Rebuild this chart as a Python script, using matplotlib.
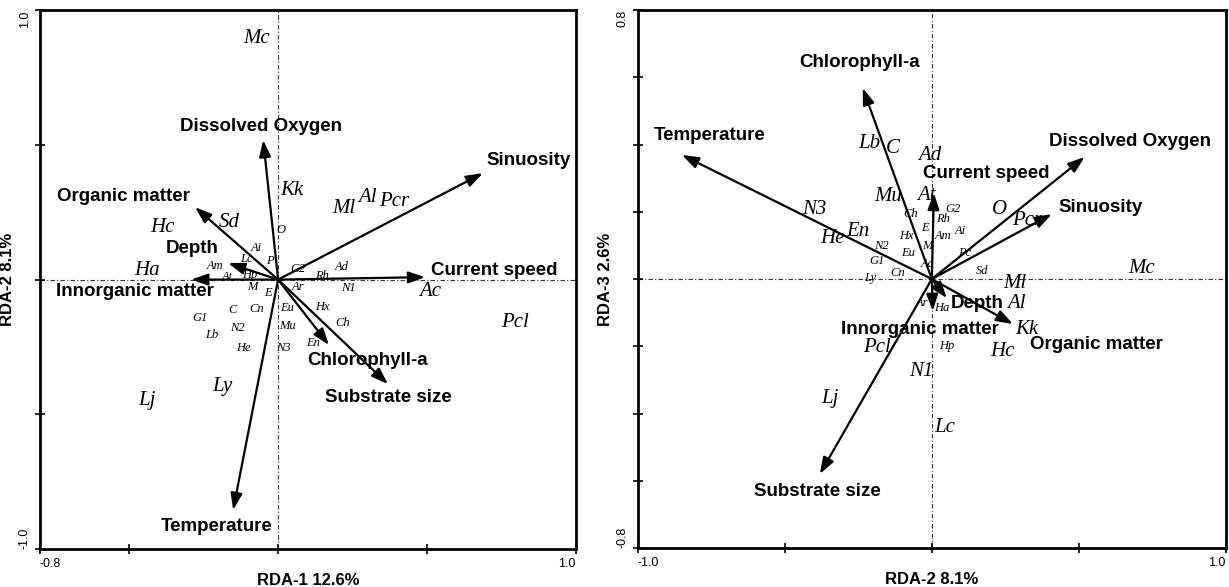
import numpy as np
import matplotlib.pyplot as plt

plt.rcParams['font.family'] = ['Liberation Sans', 'DejaVu Sans']

# environmental variables
env_names = ['Dissolved Oxygen', 'Sinuosity', 'Organic matter', 'Depth', 'Innorganic matter',
             'Current speed', 'Chlorophyll-a', 'Substrate size', 'Temperature']

# RDA-1 / RDA-2 biplot scores
env_x_12 = [-0.050, 0.688, -0.279, -0.168, -0.292, 0.494, 0.171, 0.369, -0.151]
env_y_12 = [0.518, 0.395, 0.269, 0.061, 0.000, 0.009, -0.243, -0.388, -0.855]

# RDA-2 / RDA-3 biplot scores
env_x_23 = [0.520, 0.408, 0.276, 0.051, 0.003, 0.007, -0.235, -0.381, -0.850]
env_y_23 = [0.363, 0.193, -0.134, -0.057, -0.095, 0.256, 0.568, -0.580, 0.369]

# species scores, panel 1
sp_names_12 = ['Mc', 'Kk', 'Ml', 'Al', 'Pcr', 'Hc', 'Sd', 'Ha', 'Ac', 'Pcl', 'Ly', 'Lj',
               'O', 'Ai', 'Lc', 'P', 'Am', 'At', 'Hp', 'G2', 'Rh', 'Ad', 'M', 'E', 'Ar', 'N1',
               'C', 'Cn', 'Eu', 'Hx', 'G1', 'N2', 'Mu', 'Ch', 'Lb', 'He', 'N3', 'En']
sp_x_12 = [-0.071, 0.047, 0.222, 0.299, 0.390, -0.390, -0.165, -0.440, 0.510, 0.796, -0.188, -0.440,
           0.010, -0.074, -0.107, -0.027, -0.212, -0.171, -0.094, 0.067, 0.148, 0.215, -0.087, -0.034,
           0.067, 0.235, -0.154, -0.071, 0.030, 0.148, -0.262, -0.138, 0.030, 0.218, -0.222, -0.118,
           0.017, 0.118]
sp_y_12 = [0.896, 0.332, 0.265, 0.306, 0.288, 0.195, 0.213, 0.032, -0.043, -0.161, -0.395, -0.447,
           0.184, 0.117, 0.076, 0.069, 0.050, 0.009, 0.017, 0.039, 0.013, 0.046, -0.028, -0.050,
           -0.028, -0.032, -0.113, -0.109, -0.106, -0.102, -0.143, -0.180, -0.173, -0.161, -0.206,
           -0.254, -0.254, -0.236]

# species scores, panel 2
sp_names_23 = ['Mc', 'Lb', 'C', 'Ad', 'Mu', 'At', 'N3', 'He', 'En', 'O', 'Pcr', 'Ml', 'Al', 'Kk',
               'Hc', 'Pcl', 'N1', 'Lj', 'Lc',
               'Ch', 'Rh', 'G2', 'E', 'Hx', 'Am', 'Ai', 'M', 'Eu', 'N2', 'G1', 'Ac', 'Pc', 'Ly',
               'Cn', 'Sd', 'Ar', 'Ha', 'Hp']
sp_x_23 = [0.714, -0.211, -0.133, -0.007, -0.150, -0.017, -0.398, -0.337, -0.252, 0.231, 0.323,
           0.282, 0.289, 0.323, 0.241, -0.187, -0.034, -0.347, 0.044,
           -0.071, 0.037, 0.071, -0.024, -0.085, 0.037, 0.095, -0.017, -0.082, -0.170, -0.187,
           -0.014, 0.112, -0.211, -0.116, 0.170, -0.034, 0.034, 0.051]
sp_y_23 = [0.030, 0.402, 0.387, 0.366, 0.244, 0.247, 0.208, 0.122, 0.140, 0.208, 0.173,
           -0.012, -0.074, -0.149, -0.217, -0.205, -0.274, -0.354, -0.443,
           0.193, 0.179, 0.208, 0.152, 0.128, 0.128, 0.143, 0.098, 0.077, 0.098, 0.054,
           0.045, 0.077, 0.003, 0.018, 0.024, -0.071, -0.086, -0.200]

# layout only: where the env labels sit and which species names are printed large
env_lab_12 = [(-0.057, 0.570), (0.840, 0.443), (-0.520, 0.310), (-0.289, 0.117), (-0.480, -0.046),
              (0.725, 0.032), (0.299, -0.299), (0.369, -0.436), (-0.208, -0.915)]
env_lab_23 = [(0.673, 0.408), (0.575, 0.214), (0.561, -0.196), (0.153, -0.074), (-0.041, -0.149),
              (0.184, 0.315), (-0.245, 0.643), (-0.391, -0.631), (-0.755, 0.426)]
n_big_12 = 12
n_big_23 = 19


def draw_panel(ax, ex, ey, labpos, names, sx, sy, n_big, xlim, ylim, xticks, yticks, xlab, ylab):
    ax.set_xlim(xlim)
    ax.set_ylim(ylim)
    ax.axhline(0, color='#333333', lw=0.8, ls=(0, (4, 2, 1, 2)), zorder=1)
    ax.axvline(0, color='#333333', lw=0.8, ls=(0, (4, 2, 1, 2)), zorder=1)

    for i in range(len(env_names)):
        ax.annotate('', xy=(ex[i], ey[i]), xytext=(0, 0),
                    arrowprops=dict(arrowstyle='-|>,head_length=1.0,head_width=0.35', color='black',
                                    lw=1.6, shrinkA=0, shrinkB=0), zorder=3)
        ax.text(labpos[i][0], labpos[i][1], env_names[i], fontsize=13.5, fontweight='bold',
                ha='center', va='center', zorder=4)

    for i in range(len(names)):
        if i < n_big:
            fs = 15
        else:
            fs = 9
        ax.text(sx[i], sy[i], names[i], fontsize=fs, style='italic', family='Liberation Serif',
                ha='center', va='center', zorder=2)

    ax.set_xticks(xticks)
    ax.set_yticks(yticks)
    xl = [''] * len(xticks)
    xl[0] = '%.1f' % xticks[0]
    xl[-1] = '%.1f' % xticks[-1]
    yl = [''] * len(yticks)
    yl[0] = '%.1f' % yticks[0]
    yl[-1] = '%.1f' % yticks[-1]
    ax.set_xticklabels(xl, fontsize=9)
    ax.set_yticklabels(yl, fontsize=9, rotation=90)
    xt = ax.get_xticklabels()
    xt[0].set_ha('left')
    xt[-1].set_ha('right')
    yt = ax.get_yticklabels()
    yt[0].set_va('bottom')
    yt[-1].set_va('top')
    ax.tick_params(direction='inout', length=7, width=1.2, pad=3)
    for s in ax.spines.values():
        s.set_linewidth(2)
    ax.set_xlabel(xlab, fontsize=12, fontweight='bold')
    ax.set_ylabel(ylab, fontsize=12, fontweight='bold')
    ax.xaxis.set_label_coords(0.5, -0.045)


fig = plt.figure(figsize=(12.29, 5.87), dpi=100)
ax1 = fig.add_axes([0.0325, 0.0647, 0.436, 0.918])
ax2 = fig.add_axes([0.519, 0.0664, 0.4784, 0.9165])

draw_panel(ax1, env_x_12, env_y_12, env_lab_12, sp_names_12, sp_x_12, sp_y_12, n_big_12,
           (-0.8, 1.0), (-1.0, 1.0), [-0.8, -0.5, 0, 0.5, 1.0], [-1.0, -0.5, 0, 0.5, 1.0],
           'RDA-1 12.6%', 'RDA-2 8.1%')
draw_panel(ax2, env_x_23, env_y_23, env_lab_23, sp_names_23, sp_x_23, sp_y_23, n_big_23,
           (-1.0, 1.0), (-0.8, 0.8), [-1.0, -0.5, 0, 0.5, 1.0],
           [-0.8, -0.6, -0.4, -0.2, 0, 0.2, 0.4, 0.6, 0.8],
           'RDA-2 8.1%', 'RDA-3 2.6%')
ax1.yaxis.set_label_coords(-0.047, 0.5)
ax2.yaxis.set_label_coords(-0.043, 0.5)

plt.savefig('out.png', dpi=100)
